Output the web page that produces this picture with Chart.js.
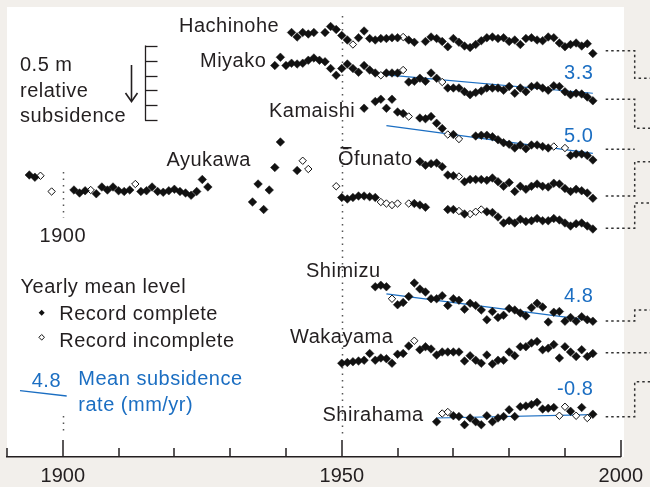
<!DOCTYPE html>
<html><head><meta charset="utf-8">
<script src="https://cdn.jsdelivr.net/npm/chart.js@4/dist/chart.umd.min.js"></script>
<style>html,body{margin:0;padding:0;background:#f2efeb;}canvas{display:block}</style>
</head><body>
<canvas id="c" width="650" height="487"></canvas>
<script>
// ---------- DATA (relative level, cm; one value per year; null = no record) ----------
const stations = ['Hachinohe','Miyako','Kamaishi','Ōfunato','Ayukawa','Shimizu','Wakayama','Shirahama'];
const firstYears = [1941, 1938, 1954, 1964, 1894, 1956, 1950, 1967];
const stackOffsets = [-17, -39, -67, -103, -122, -186, -237, -272]; // vertical separation of records (cm)

const hachinohe = [0,-3,0,-1,0,null,0,4,2,-2,-5,-8,-3.5,1,-4,-5,-4,-4,-3.5,-3.5,-3,-5,-6.5,null,-6,-3,-4,-6,
  -9.5,-4,-6.5,-9,-10,-8,-5.5,-3.5,-3,-4,-3.5,-6,-5,-8,-4,-3.5,-5,-5.5,-3,-3.5,-7,-9.5,-8,-7,-9,-7.5,-14];
const miyako = [0,5.5,0,1.5,1,1.5,3.5,5,3.5,2.5,-2,-6.5,-2,1,-2,-4.5,0,-3,-5,-6.5,-5,-5,-5,-3,-11,-10.5,-8.5,-10.5,-5,-8.5,-11,
  -15,-15,-15,-17.5,-19.5,-18,-17,-15,-15,-15,-16.5,-14,-18.5,-15,-17.5,-14,-13.5,-15,-16.5,-13.5,-14,-17.5,-19.5,-18.5,-19,-21,-23.5];
const kamaishi = [-0.5,null,4,5.5,-0.5,5.5,-3,-4,-6,null,-7,-7.5,-6,-10.5,-14,-18,-18,-21,null,null,
  -19,-18.5,-18.5,-19.5,-21.5,-23.5,-24.5,-27,-25,-27.5,-25,-25,-26,-27,-26,null,-27,-32,-31,-31,-32,-35];
const ofunato = [0,-2.5,-1.5,-1,-3.5,-9,-9.5,-10,-13.5,-12,-12,-12,-12.5,-11,-13.5,-16.5,-14,-20,-16.5,-18.5,-16.5,-15,
  -16.5,-17,-14.5,-15,-18,-20,-18.5,-19.5,-21,-24.5];
const ayukawa = [10,8.5,9.5,null,-1,null,null,null,0,-2,-0.5,0,-2.5,2,0,2,-0.5,-1,0,4,-1,-0.5,2,-1,-1.5,-0.5,0.5,-1,-2,-3.5,-1,7,2,
  null,null,null,null,null,null,null,-8,4,-13,0,15,32,null,null,13,19.5,14,null,null,null,null,2.5,
  -5,-6,-5,-4,-4,-4.5,-5,-8,-9,-10,-9,null,-9,-9,-10,-11.5,null,null,null,
  -13,-13,-14,-16,-16,-14.5,-13,-14.5,-15,-18,-22,-20.5,-22,-19.5,-21,-20.5,-19,-20.5,-20.5,-19,-20,-22,-24,-22.5,-22,-24,-26];
const shimizu = [-0.5,0.5,-0.5,-8.5,-12.5,-11,-7,2,-2,-4,-8.5,-8.5,-6.5,-13,-8.5,-9.5,-15.5,-11.5,-13,-16,-22.5,-17,-21,-19.5,
  -15,-16,-18,-20,-14.5,-11.5,-14,-24,-17.5,-17,-23.5,-21,-23.5,-20.5,-22.5,-23.5];
const wakayama = [-0.5,0,0.5,1,1.5,6,1.5,3,2.5,-0.5,5.5,6,11,14.5,8.5,10.5,9,5,7,7,7,7,1,4.5,1.5,-0.5,5,-1,1.5,1.5,
  7,4.5,10.5,10.5,13,14,8.5,9.5,12,3,10.5,7,4,8.5,4,6];
const shirahama = [-4.5,1,2,-0.5,-1,-6.5,-2,-4.5,-6.5,-0.5,-4.5,-2,-1,3.5,-1,5.5,6,7,8.5,4,4.5,5,-0.5,5.5,2.5,-0.5,5,-2,0.5];
const seriesValues = [hachinohe, miyako, kamaishi, ofunato, ayukawa, shimizu, wakayama, shirahama];

// years whose record is incomplete (open diamonds)
const incompleteYears = [
  [1952,1961],
  [1957,1961,1968],
  [1962,1969,1971,1988,1990],
  [1971],
  [1896,1898,1905,1913,1943,1944,1949,1957,1958,1959,1960,1962,1971,1973,1974,1975],
  [1959],
  [1963],
  [1968,1969,1989,1990,1992,1994]
];

// mean subsidence rates (mm/yr) and fit spans
const trendStation = [1, 2, 5, 7];
const trendRate = [3.3, 5.0, 4.8, -0.8];
const trendFrom = [1958, 1958, 1958, 1967];
const trendTo = [1995, 1995, 1995, 1995];
const trendStartLevel = [-6.3, -12.1, -5.3, -2]; // cm, relative level of the fit at its first year

const xTicks = [1900, 1950, 2000];

// ---------- LAYOUT (pixels / styling only) ----------
const INK = '#231f20', BLUE = '#1b6ec2';
const FONT = '20px "Liberation Sans", Arial, sans-serif';
const stationLabelPos = [[179,31.5],[200,66.5],[269,116.5],[338,164.5],[166.5,166],[306,276.5],[290,342.5],[322.5,420.5]];
const rateLabelLevel = [-48.2, -89.8, -196.5, -258.7]; // chart cm (baseline)
// right-hand dotted links: [from level, to level] in chart cm (null = ends at the bend)
const links = [[-29.1,-47.5],[-61.5,-80.9],[-94.9,null],[-126,-103.1],[-147.5,-130.7],[-209.3,-202],[-230.5,-230.5],[-273.1,-249.8]];

// ---------- datasets ----------
const datasets = [];
stations.forEach((name, i) => {
  const full = [], open = [];
  seriesValues[i].forEach((v, k) => {
    if (v === null) return;
    const yr = firstYears[i] + k;
    const p = {x: yr, y: stackOffsets[i] + v};
    (incompleteYears[i].includes(yr) ? open : full).push(p);
  });
  datasets.push({label: name + ' complete', data: full, pointStyle: 'rectRot', pointRadius: 4.3,
    backgroundColor: '#111', borderColor: '#111', borderWidth: 0.5, showLine: false, order: 0});
  datasets.push({label: name + ' incomplete', data: open, pointStyle: 'rectRot', pointRadius: 3.7,
    backgroundColor: '#fff', borderColor: '#111', borderWidth: 1, showLine: false, order: 0});
});
trendStation.forEach((s, j) => {
  const y0 = stackOffsets[s] + trendStartLevel[j];
  const y1 = y0 - trendRate[j] * (trendTo[j] - trendFrom[j]) / 10;
  datasets.push({type: 'line', label: 'trend ' + stations[s], data: [{x: trendFrom[j], y: y0}, {x: trendTo[j], y: y1}],
    borderColor: BLUE, borderWidth: 1.2, pointRadius: 0, fill: false, order: 1});
});

function diamond(ctx, x, y, r, filled) {
  ctx.beginPath();
  ctx.moveTo(x, y - r); ctx.lineTo(x + r, y); ctx.lineTo(x, y + r); ctx.lineTo(x - r, y); ctx.closePath();
  if (filled) { ctx.fillStyle = '#111'; ctx.fill(); }
  else { ctx.fillStyle = '#fff'; ctx.fill(); ctx.strokeStyle = '#111'; ctx.lineWidth = 1; ctx.stroke(); }
}
function text(ctx, s, x, y, color, align) {
  ctx.font = FONT; ctx.fillStyle = color; ctx.textAlign = align || 'left'; ctx.textBaseline = 'alphabetic';
  ctx.letterSpacing = '0.5px';
  ctx.fillText(s, x, y);
}

const decor = {
  id: 'decor',
  beforeDraw(chart) {
    const ctx = chart.ctx;
    ctx.save();
    ctx.fillStyle = '#f2efeb'; ctx.fillRect(0, 0, chart.width, chart.height);
    ctx.fillStyle = '#ffffff'; ctx.fillRect(7, 7, 617, 450);
    ctx.restore();
  },
  beforeDatasetsDraw(chart) {
    const ctx = chart.ctx, x = chart.scales.x;
    ctx.save();
    ctx.strokeStyle = '#555'; ctx.lineWidth = 1.5; ctx.setLineDash([1.5, 5]);
    const seg = (yr, a, b) => { const px = Math.round(x.getPixelForValue(yr)) + 0.5; ctx.beginPath(); ctx.moveTo(px, a); ctx.lineTo(px, b); ctx.stroke(); };
    seg(1950, 16, 436); seg(1900, 172, 218); seg(1900, 416, 434);
    ctx.restore();
  },
  afterDraw(chart) {
    const ctx = chart.ctx, x = chart.scales.x, y = chart.scales.y;
    const bottom = chart.chartArea.bottom;
    ctx.save();
    // inward ticks
    ctx.strokeStyle = INK; ctx.lineWidth = 1.5;
    x.ticks.forEach(t => {
      const px = Math.round(x.getPixelForValue(t.value));
      const len = xTicks.includes(t.value) ? 17 : 9;
      ctx.beginPath(); ctx.moveTo(px, bottom); ctx.lineTo(px, bottom - len); ctx.stroke();
    });
    // right-hand dotted links
    ctx.strokeStyle = '#333'; ctx.lineWidth = 1.5; ctx.setLineDash([2.5, 3]);
    const xa = x.getPixelForValue(1997.3), xb = x.getPixelForValue(2002.5);
    links.forEach(([f, t]) => {
      const pf = y.getPixelForValue(f);
      ctx.beginPath(); ctx.moveTo(xa, pf); ctx.lineTo(xb, pf);
      if (t !== null) { const pt = y.getPixelForValue(t); ctx.lineTo(xb, pt); ctx.lineTo(chart.width, pt); }
      ctx.stroke();
    });
    ctx.setLineDash([]);
    // station names
    stations.forEach((s, i) => text(ctx, s, stationLabelPos[i][0], stationLabelPos[i][1], INK));
    // make sure the macron of Ō is visible
    ctx.strokeStyle = INK; ctx.lineWidth = 1.6;
    ctx.beginPath(); ctx.moveTo(stationLabelPos[3][0] + 2.5, 147.8); ctx.lineTo(stationLabelPos[3][0] + 13.5, 147.8); ctx.stroke();
    // rate labels
    trendRate.forEach((r, j) => text(ctx, r.toFixed(1), x.getPixelForValue(trendTo[j]) + 0.5, y.getPixelForValue(rateLabelLevel[j]), BLUE, 'right'));
    // mid-chart 1900 label
    text(ctx, '1900', x.getPixelForValue(1900), 241.5, INK, 'center');
    // scale key
    text(ctx, '0.5 m', 20, 70.5, INK); text(ctx, 'relative', 20, 96.5, INK); text(ctx, 'subsidence', 20, 122, INK);
    ctx.strokeStyle = INK; ctx.lineWidth = 1.3;
    const top = 45.5, span = y.getPixelForValue(-50) - y.getPixelForValue(0);
    ctx.beginPath(); ctx.moveTo(145.5, top); ctx.lineTo(145.5, top + span); ctx.stroke();
    for (let k = 0; k <= 5; k++) { const py = Math.round(top + span * k / 5) + 0.5; ctx.beginPath(); ctx.moveTo(145, py); ctx.lineTo(157.5, py); ctx.stroke(); }
    ctx.lineWidth = 1.6;
    ctx.beginPath(); ctx.moveTo(131.5, 65); ctx.lineTo(131.5, 101); ctx.stroke();
    ctx.beginPath(); ctx.moveTo(125.5, 93); ctx.lineTo(131.5, 101.5); ctx.lineTo(137.5, 93); ctx.stroke();
    // legend
    text(ctx, 'Yearly mean level', 20.5, 293.3, INK);
    diamond(ctx, 41.7, 312.7, 3, true); text(ctx, 'Record complete', 59.3, 320, INK);
    diamond(ctx, 41.7, 337.3, 2.8, false); text(ctx, 'Record incomplete', 59.3, 346.7, INK);
    text(ctx, '4.8', 31.7, 386.7, BLUE);
    ctx.strokeStyle = BLUE; ctx.lineWidth = 1.3;
    ctx.beginPath(); ctx.moveTo(20, 390.7); ctx.lineTo(66.7, 396); ctx.stroke();
    text(ctx, 'Mean subsidence', 78.3, 385, BLUE); text(ctx, 'rate (mm/yr)', 78.3, 411, BLUE);
    ctx.restore();
  }
};

new Chart(document.getElementById('c'), {
  type: 'scatter',
  data: {datasets},
  options: {
    responsive: false, animation: false, devicePixelRatio: 1,
    layout: {padding: {left: 7, right: 27, top: 7, bottom: 0}},
    plugins: {legend: {display: false}, tooltip: {enabled: false}},
    scales: {
      x: {type: 'linear', min: 1890, max: 2000, position: 'bottom',
        afterFit: s => { s.height = 30; },
        grid: {display: false, drawTicks: false},
        border: {display: true, color: INK, width: 1.5},
        ticks: {stepSize: 10, padding: 7, autoSkip: false, maxRotation: 0, color: INK,
          font: {family: '"Liberation Sans", Arial, sans-serif', size: 20},
          callback: v => xTicks.includes(v) ? String(v) : ''}},
      y: {type: 'linear', min: -300, max: 0, display: false}
    }
  },
  plugins: [decor]
});
</script>
</body></html>
